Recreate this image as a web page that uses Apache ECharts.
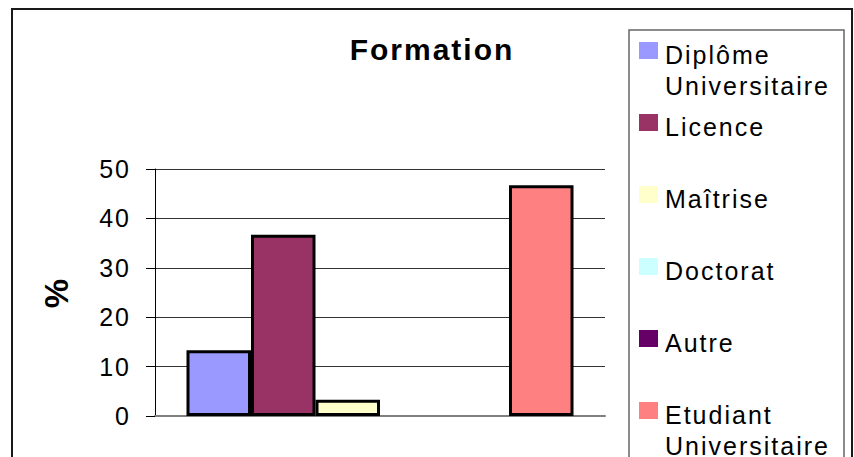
<!DOCTYPE html>
<html>
<head>
<meta charset="utf-8">
<script src="https://cdn.jsdelivr.net/npm/echarts@6/dist/echarts.min.js"></script>
<style>
  html, body { margin: 0; padding: 0; background: #fff; }
  #chart { width: 854px; height: 457px; }
  /* Spaced-out lettering, as in the office-style chart */
  #chart text { letter-spacing: 2px; }
</style>
</head>
<body>
<div id="chart"></div>
<script>
// Single category, one bar per level of education (values in %)
const categories = ['Formation'];
const seriesNames = ['Diplôme Universitaire', 'Licence', 'Maîtrise', 'Doctorat', 'Autre', 'Etudiant Universitaire'];
const seriesValues = [13.3, 36.7, 3.3, 0, 0, 46.7];
const seriesColors = ['#9999FF', '#993366', '#FFFFCC', '#CCFFFF', '#660066', '#FF8080'];
const yTicks = [0, 10, 20, 30, 40, 50];

const FONT = '"Liberation Sans", Arial, sans-serif';

const chart = echarts.init(document.getElementById('chart'), null, { renderer: 'svg' });

// Boxed legend on the right, one entry per series, two-word names on two lines
const legendLeft = 639, legendTop = 42, legendStep = 72;
const legendItems = [];
seriesNames.forEach((name, i) => {
  const top = legendTop + i * legendStep;
  legendItems.push({
    type: 'rect', silent: true,
    shape: { x: legendLeft, y: top, width: 19, height: 17 },
    style: { fill: seriesColors[i] }
  });
  legendItems.push({
    type: 'text', silent: true,
    x: legendLeft + 26, y: top - 3,
    style: {
      text: name.replace(' ', '\n'),
      fontSize: 25, fontFamily: FONT, fill: '#000',
      lineHeight: 31, verticalAlign: 'top', align: 'left'
    }
  });
});

const option = {
  animation: false,
  backgroundColor: '#fff',
  title: {
    text: 'Formation',
    left: 427, top: 29, textAlign: 'center',
    textStyle: { fontSize: 30, fontWeight: 'bold', fontFamily: FONT, color: '#000' }
  },
  grid: { left: 155, right: 249, top: 169, bottom: 41 },
  xAxis: {
    type: 'category',
    data: categories,
    axisLabel: { show: false },
    axisTick: { show: false },
    axisLine: { show: true, lineStyle: { color: '#808080', width: 2 } },
    splitLine: { show: false }
  },
  yAxis: {
    type: 'value',
    min: yTicks[0],
    max: yTicks[yTicks.length - 1],
    interval: yTicks[1] - yTicks[0],
    name: '%',
    nameLocation: 'middle',
    nameRotate: 90,
    nameGap: 82,
    nameTextStyle: { fontSize: 33, fontWeight: 'bold', fontFamily: FONT, color: '#000' },
    axisLine: { show: true, lineStyle: { color: '#000', width: 1 } },
    axisTick: { show: true, length: 9, lineStyle: { color: '#000', width: 1 } },
    axisLabel: {
      fontSize: 25, fontFamily: FONT, color: '#000', margin: 24,
      padding: [10, 0, 0, 0]
    },
    splitLine: { show: true, lineStyle: { color: '#333', width: 1 } }
  },
  series: seriesNames.map((name, i) => ({
    type: 'bar',
    name: name,
    data: [seriesValues[i]],
    barWidth: 64.5,
    barGap: '0%',
    itemStyle: {
      color: seriesColors[i],
      borderColor: '#000',
      borderWidth: seriesValues[i] > 0 ? 3 : 0
    }
  })),
  graphic: [
    {
      type: 'rect', silent: true, z: 100,
      shape: { x: 12, y: 9, width: 840, height: 480 },
      style: { fill: 'none', stroke: '#1a1a1a', lineWidth: 2 }
    },
    {
      type: 'rect', silent: true, z: 100,
      shape: { x: 629, y: 30, width: 215, height: 460 },
      style: { fill: 'none', stroke: '#666', lineWidth: 1.5 }
    },
    ...legendItems.map(el => Object.assign({ z: 101 }, el))
  ]
};

chart.setOption(option);
</script>
</body>
</html>
